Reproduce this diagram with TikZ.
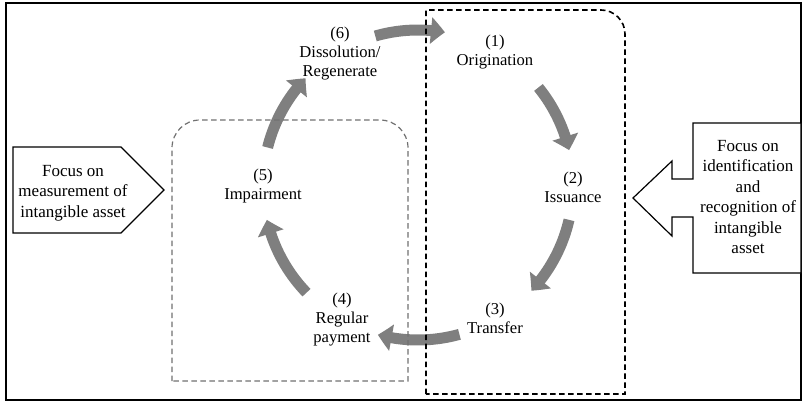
\documentclass[tikz,border=0pt]{standalone}
\usepackage{fontspec}
\setmainfont{Liberation Serif}
\usetikzlibrary{arrows.meta,bending,calc}
\definecolor{arrowgray}{RGB}{127,127,127}
\definecolor{boxgray}{RGB}{112,112,112}
\begin{document}
\begin{tikzpicture}[x=1pt,y=-1pt,
  lbl/.style={align=center,font=\fontsize{16.6}{19}\selectfont,inner sep=0pt},
  calltxt/.style={align=center,font=\fontsize{17}{20.5}\selectfont,inner sep=0pt},
  cyc/.style={draw=arrowgray,line width=11pt,-{Triangle[width=26pt,length=14pt,bend]}},
  callout/.style={draw=black,line width=1.2pt,fill=white,line join=miter},
  focusbox/.style={draw=black,line width=1.6pt,dash pattern=on 5.5pt off 3.5pt},
  measbox/.style={draw=boxgray,line width=1.2pt,dash pattern=on 5.5pt off 3.5pt},
  frame/.style={draw=black,line width=2pt}]
\useasboundingbox (0,0) rectangle (804,402);
\draw[frame] (6,3) rectangle (801,400);

% cycle centre
\coordinate (cc) at (418,185);

% labels
\node[lbl] (n1) at (495,52) {(1)\\Origination};
\node[lbl] (n2) at (573,187) {(2)\\Issuance};
\node[lbl] (n3) at (495,318) {(3)\\Transfer};
\node[lbl] (n4) at (342,320) {(4)\\Regular\\payment};
\node[lbl] (n5) at (263,186) {(5)\\Impairment};
\node[lbl] (n6) at (340,54) {(6)\\Dissolution/\\Regenerate};

% cycle arrows
\draw[cyc] ($(cc)+(-106:155)$) arc[start angle=-106,end angle=-80,radius=155];
\draw[cyc] ($(cc)+(-39:155)$) arc[start angle=-39,end angle=-13,radius=155];
\draw[cyc] ($(cc)+(13:155)$) arc[start angle=13,end angle=43,radius=155];
\draw[cyc] ($(cc)+(74.5:155)$) arc[start angle=74.5,end angle=105,radius=155];
\draw[cyc] ($(cc)+(136:155)$) arc[start angle=136,end angle=167,radius=155];
\draw[cyc] ($(cc)+(194:155)$) arc[start angle=194,end angle=223.5,radius=155];

% dashed groups
\draw[measbox] (172,381) -- (172,148) arc[start angle=180,end angle=270,radius=28]
  -- (380,120) arc[start angle=270,end angle=360,radius=28] -- (408,381) -- cycle;
\draw[focusbox] (426,394) -- (426,10) -- (601,10) arc[start angle=270,end angle=360,radius=24]
  -- (625,394) -- cycle;

% callouts
\draw[callout] (13,147) -- (121,147) -- (164,190) -- (121,233) -- (13,233) -- cycle;
\node[calltxt] (lt) at (73,193) {Focus on\\measurement of\\intangible asset};
\draw[callout] (693,123) -- (801,123) -- (801,273) -- (693,273) -- (693,217) -- (672,217)
  -- (672,236) -- (633,198) -- (672,161) -- (672,179) -- (693,179) -- cycle;
\node[calltxt] (rt) at (748,197) {Focus on\\identification\\and\\recognition of\\intangible\\asset};
\end{tikzpicture}
\end{document}
